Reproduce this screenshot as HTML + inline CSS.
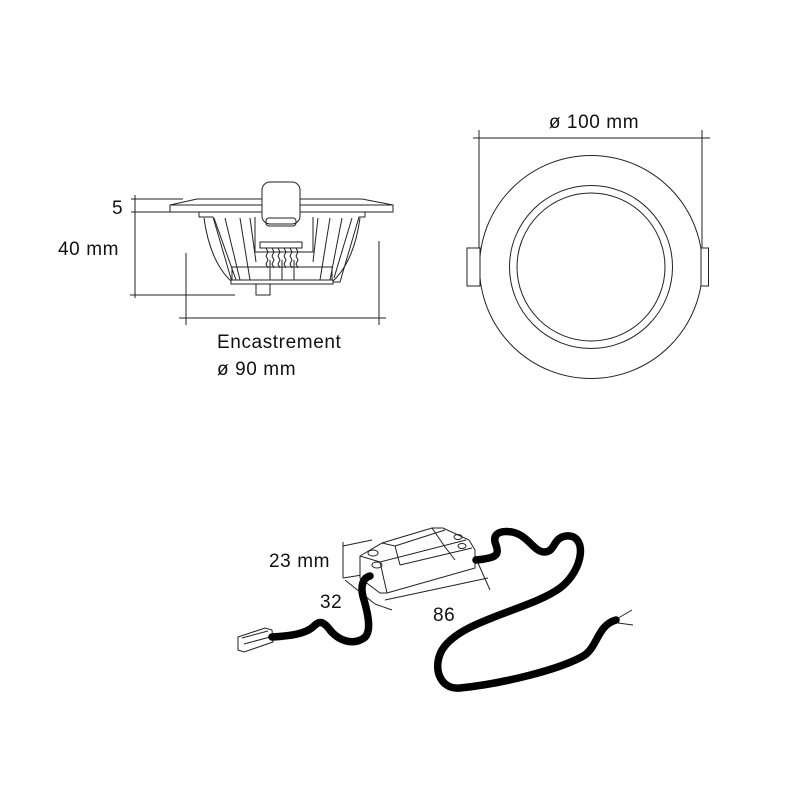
<!DOCTYPE html>
<html><head><meta charset="utf-8"><style>
html,body{margin:0;padding:0;background:#fff;width:800px;height:800px;overflow:hidden}
svg{display:block}
text{font-family:"Liberation Sans",sans-serif;fill:#111;font-size:19px;letter-spacing:0.6px}
</style></head><body>
<svg width="800" height="800" viewBox="0 0 800 800" xmlns="http://www.w3.org/2000/svg">
<g fill="none" stroke="#222" stroke-width="1">
<line x1="473" y1="138" x2="710" y2="138"/>
<line x1="479" y1="130" x2="479" y2="250"/>
<line x1="702" y1="130" x2="702" y2="250"/>
<circle cx="591" cy="267" r="111.5"/>
<circle cx="591" cy="267" r="81.5"/>
<circle cx="591" cy="267" r="74"/>
<rect x="467" y="248" width="13" height="38" fill="#fff"/>
<rect x="701" y="248" width="7.5" height="38" fill="#fff"/>
<line x1="135" y1="195" x2="135" y2="298"/>
<line x1="131" y1="199" x2="183" y2="199"/>
<line x1="131" y1="212" x2="170" y2="212"/>
<line x1="130" y1="295" x2="235" y2="295"/>
<line x1="186" y1="253" x2="186" y2="325"/>
<line x1="379" y1="241" x2="379" y2="325"/>
<line x1="179" y1="318" x2="386" y2="318"/>
<polygon points="170,205 197,199 362,199 393,205 393,212 170,212" fill="#fff"/>
<line x1="170" y1="205" x2="393" y2="205"/>
<polygon points="199,212 365,212 365,217 359,217 340,282 232,282 213,217 199,217" fill="#fff"/>
<path d="M204,218 Q210,262 232,282 M360,218 Q354,262 332,282"/>
<path d="M214,218 L236,280 M225,218 L240,280 M240,218 L250,280 M250,218 L256,262 M318,218 L313,262 M330,218 L320,280 M342,218 L330,280 M352,218 L334,278"/>
<rect x="232" y="267" width="100" height="13"/>
<rect x="231" y="280" width="102" height="4" fill="#fff"/>
<rect x="256" y="284" width="14" height="11"/>
<path d="M255,217 L255,252 L313,252 L313,217"/>
<rect x="262" y="182" width="38" height="42" rx="8" fill="#fff"/>
<rect x="266" y="218" width="30" height="8" rx="3"/>
<rect x="260" y="242" width="42" height="6"/>
<path d="M266,248 l2,4 -2,4 2,4 -2,4 2,4 M272,248 l2,4 -2,4 2,4 -2,4 2,4 M278,248 l2,4 -2,4 2,4 -2,4 2,4 M284,248 l2,4 -2,4 2,4 -2,4 2,4 M290,248 l2,4 -2,4 2,4 -2,4 2,4 M296,248 l2,4 -2,4 2,4 -2,4 2,4"/>
<line x1="270" y1="260" x2="270" y2="280"/><line x1="282" y1="260" x2="282" y2="280"/><line x1="294" y1="260" x2="294" y2="280"/>
<line x1="343" y1="542" x2="343" y2="578"/>
<line x1="343" y1="546" x2="372" y2="540"/>
<line x1="343" y1="578" x2="362" y2="575"/>
<line x1="345" y1="580" x2="375" y2="604"/>
<line x1="375" y1="604" x2="392" y2="610"/>
<line x1="385" y1="600" x2="488" y2="578"/>
<line x1="478" y1="563" x2="490" y2="590"/>
<polygon points="360,556 382,543 432,528 443,528 469,540 475,550 475,568 387,593 380,593 360,578" fill="#fff"/>
<path d="M360,556 L380,562 L466,540 M380,562 L387,593 M382,543 L395,546 L400,565 M432,528 L445,547 L455,560 M395,546 L445,530 M400,565 L472,548"/>
<ellipse cx="373" cy="553" rx="5" ry="3"/><ellipse cx="377" cy="565" rx="5" ry="3"/>
<ellipse cx="458" cy="537" rx="4" ry="2.5"/><ellipse cx="462" cy="546" rx="4" ry="2.5"/>
<polygon points="238,637 265,628 272,630 273,642 244,652 238,650" fill="#fff"/>
<path d="M242,638 L268,631 M244,644 L270,637"/>
<path d="M615,620 L632,610 M618,623 L633,625"/>
</g>
<g fill="none" stroke="#000" stroke-width="7.5" stroke-linecap="round" stroke-linejoin="round">
<path d="M272,637 C290,636 306,634 314,626 C320,620 324,622 330,630 C338,640 352,646 364,638 C372,632 368,614 364,600 C360,588 362,578 370,576"/>
<path d="M476,560 C495,558 500,556 496,545 C492,535 498,530 512,532 C528,535 534,552 544,552 C556,552 552,538 566,536 C588,534 584,570 560,588 C530,610 460,620 442,650 C432,668 440,690 460,688 C500,684 560,670 585,655 C598,645 598,625 616,620"/>
</g>
<text x="112" y="214">5</text>
<text x="58" y="255">40 mm</text>
<text x="217" y="348">Encastrement</text>
<text x="217" y="375">ø 90 mm</text>
<text x="594" y="128" text-anchor="middle">ø 100 mm</text>
<text x="269" y="567">23 mm</text>
<text x="320" y="608">32</text>
<text x="433" y="621">86</text>
</svg>
</body></html>
